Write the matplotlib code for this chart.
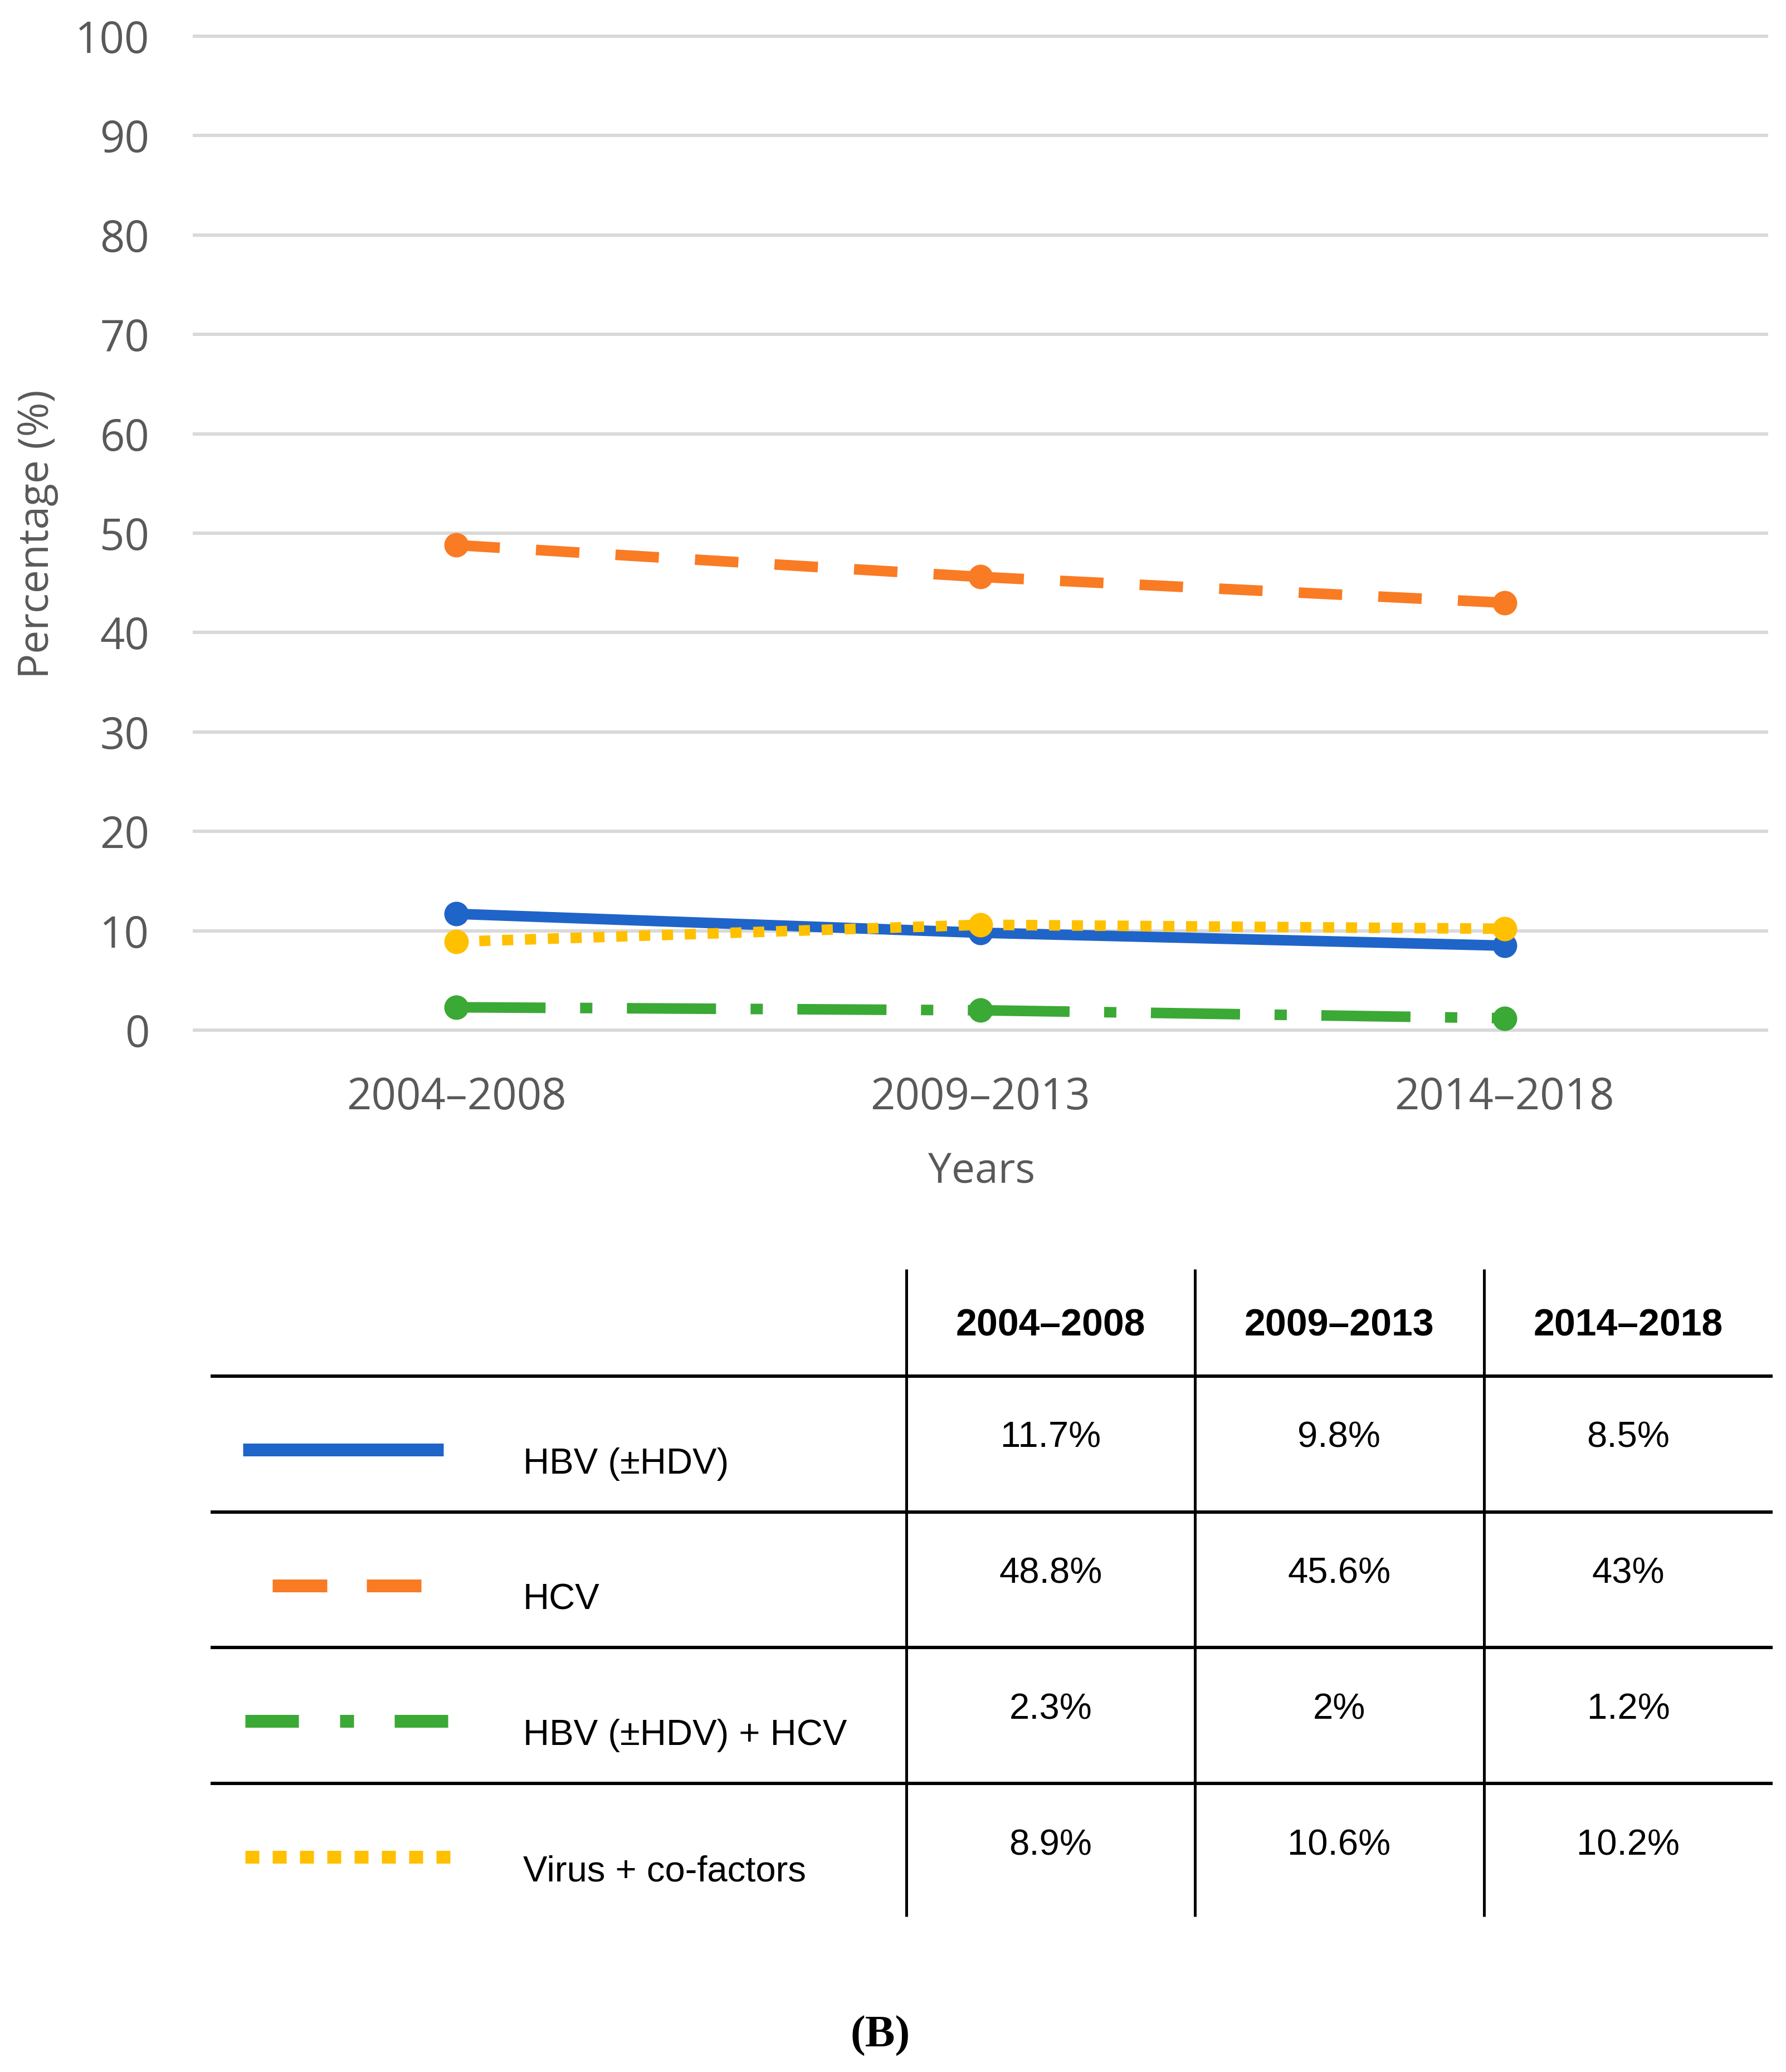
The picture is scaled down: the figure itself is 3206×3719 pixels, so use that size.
import numpy as np
import matplotlib
matplotlib.use('Agg')
import matplotlib.pyplot as plt

plt.rcParams['lines.scale_dashes'] = False

periods = ['2004–2008', '2009–2013', '2014–2018']
series_names = ['HBV (±HDV)', 'HCV', 'HBV (±HDV) + HCV', 'Virus + co-factors']
hbv = [11.7, 9.8, 8.5]
hcv = [48.8, 45.6, 43.0]
hbv_hcv = [2.3, 2.0, 1.2]
virus_cof = [8.9, 10.6, 10.2]
yticks = list(range(0, 101, 10))

W, H = 3206, 3719
px = 72 / 100  # points per pixel at dpi 100

colors = ['#1F64C8', '#F97B24', '#3BA935', '#FFC000']
# dash patterns (pixels) for the chart lines and the table swatches
chart_dash = [None, (78, 65), (160, 62, 22, 62), (20, 21)]
swatch_dash = [None, (98, 71), (96, 74, 25, 73), (25, 24)]

def ls_from(d):
    if d is None:
        return '-'
    return (0, tuple(v * px for v in d))

fig = plt.figure(figsize=(W / 100, H / 100), dpi=100)
fig.patch.set_facecolor('white')

ax = fig.add_axes([349 / W, 1 - 1849 / H, (3171 - 349) / W, (1849 - 65) / H])
x = np.arange(len(periods))
all_series = [hbv, hcv, hbv_hcv, virus_cof]

for vals, c, d in zip(all_series, colors, chart_dash):
    # Excel restarts the dash pattern on every segment
    for i in range(len(x) - 1):
        ax.plot(x[i:i + 2], vals[i:i + 2], color=c, lw=19 * px,
                linestyle=ls_from(d), dash_capstyle='butt',
                solid_capstyle='butt', clip_on=False)
    ax.plot(x, vals, 'o', ms=44 * px, color=c, mec=c, mew=0, clip_on=False)

ax.set_xlim(-0.5, 2.5)
ax.set_ylim(0, 100)
ax.set_xticks(x, periods)
ax.set_yticks(yticks)
for s in ax.spines.values():
    s.set_visible(False)
ax.yaxis.grid(True, color='#d9d9d9', lw=6 * px)
ax.set_axisbelow(True)
for gl in ax.get_ygridlines():
    gl.set_clip_on(False)
ax.tick_params(axis='both', length=0, labelsize=56, labelcolor='#595959')
ax.tick_params(axis='x', pad=59)
ax.tick_params(axis='y', pad=58)
for lab in ax.get_xticklabels() + ax.get_yticklabels():
    lab.set_family('Open Sans')

fig.text(68 / W, 1 - 959 / H, 'Percentage (%)', rotation=90, ha='center',
         va='center', fontsize=54, color='#595959', family='Open Sans')
fig.text(1762 / W, 1 - 2123 / H, 'Years', ha='center', va='baseline',
         fontsize=54, color='#595959', family='Open Sans')

# table below the chart, drawn in pixel coordinates
tab = fig.add_axes([0, 0, 1, 1])
tab.set_xlim(0, W)
tab.set_ylim(H, 0)
tab.axis('off')

col_x = [1886, 2404, 2923]
row_h = 243.7
row0 = 2470

for cx, p in zip(col_x, periods):
    tab.text(cx, 2397, p, ha='center', va='baseline', fontsize=49,
             weight='bold', family='Liberation Sans', color='black')

for k in range(4):
    tab.plot([378, 3182], [row0 + k * row_h] * 2, color='black', lw=6 * px,
             solid_capstyle='butt')
for vx in [1627, 2145, 2664]:
    tab.plot([vx, vx], [2278, 3440], color='black', lw=5 * px,
             solid_capstyle='butt')

swatch_x = [(436, 796), (489, 758), (440, 805), (440, 808)]
for k, (name, vals, c, d, sx) in enumerate(zip(series_names, all_series,
                                               colors, swatch_dash, swatch_x)):
    top = row0 + k * row_h
    tab.plot(list(sx), [top + 132] * 2, color=c, lw=23 * px,
             linestyle=ls_from(d), dash_capstyle='butt', solid_capstyle='butt')
    tab.text(939, top + 175, name, ha='left', va='baseline', fontsize=47,
             family='Liberation Sans', color='black')
    for cx, v in zip(col_x, vals):
        tab.text(cx, top + 128, f'{v:g}%', ha='center', va='baseline',
                 fontsize=47, family='Liberation Sans', color='black')

fig.text(1580 / W, 1 - 3674 / H, '(B)', ha='center', va='baseline',
         fontsize=58, weight='bold', family='Liberation Serif', color='black')

fig.savefig('out.png', dpi=100)
